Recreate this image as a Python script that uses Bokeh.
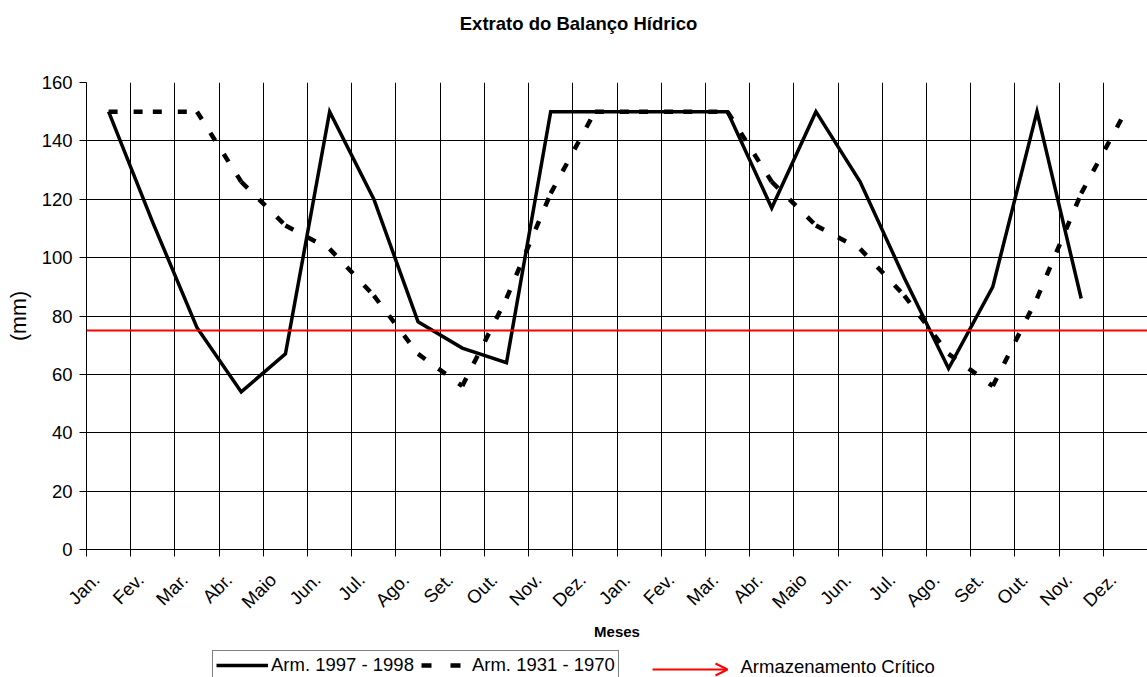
import math
from bokeh.plotting import figure
from bokeh.layouts import column
from bokeh.models import (Range1d, FixedTicker, Span, Legend, LegendItem, Label,
                          Arrow, OpenHead)
from bokeh.embed import file_html
from bokeh.resources import INLINE

# ---------------- data ----------------
months = ["Jan.", "Fev.", "Mar.", "Abr.", "Maio", "Jun.", "Jul.", "Ago.", "Set.", "Out.", "Nov.", "Dez.",
          "Jan.", "Fev.", "Mar.", "Abr.", "Maio", "Jun.", "Jul.", "Ago.", "Set.", "Out.", "Nov.", "Dez."]
arm_1997_1998 = [150, 112, 76, 54, 67, 150, 120, 78, 69, 64, 150, 150,
                 150, 150, 150, 117, 150, 126, 93, 62, 90, 150, 86]
arm_1931_1970 = [150, 150, 150, 126, 111, 103, 87, 67, 56, 86, 122, 150,
                 150, 150, 150, 126, 111, 103, 87, 67, 56, 86, 122, 150]
critical = 75
y_ticks = [0, 20, 40, 60, 80, 100, 120, 140, 160]

title_text = "Extrato do Balanço Hídrico"
x_title = "Meses"
y_title = "(mm)"
series_names = ["Arm. 1997 - 1998", "Arm. 1931 - 1970"]
critical_name = "Armazenamento Crítico"

FONT = "Liberation Sans"
W = 1147

n = len(months)
xs = [i + 0.5 for i in range(n)]            # category centres
bounds = list(range(n + 1))                 # category boundaries
label_pos = [i + 0.22 for i in range(n)]    # anchor of the slanted month labels


def blank(height):
    f = figure(width=W, height=height, output_backend="svg", toolbar_location=None,
               x_range=Range1d(0, W), y_range=Range1d(0, height),
               x_axis_type=None, y_axis_type=None, min_border=0, frame_align=False,
               background_fill_color="white", border_fill_color="white")
    f.outline_line_color = None
    f.xgrid.visible = False
    f.ygrid.visible = False
    return f


SOLID = dict(line_color="black", line_width=3.5, line_join="miter")
DASH = dict(line_color="black", line_width=4.5, line_cap="butt")

# ---------------- title strip ----------------
top = blank(40)
top.add_layout(Label(x=578, y=17.5, text=title_text, text_align="center", text_baseline="middle",
                     text_font=FONT, text_font_size="18.5px", text_font_style="bold",
                     text_color="black"))

# ---------------- main chart ----------------
p = figure(width=W, height=608, output_backend="svg", toolbar_location=None,
           x_range=Range1d(0, n), y_range=Range1d(0, 160),
           min_border_left=86, min_border_right=0, min_border_top=42, min_border_bottom=99,
           background_fill_color="white", border_fill_color="white")
p.outline_line_color = None

xa = p.xaxis[0]
xa.ticker = FixedTicker(ticks=label_pos, minor_ticks=bounds)
xa.major_label_overrides = {x: m for x, m in zip(label_pos, months)}
xa.major_label_orientation = math.pi / 4
xa.major_tick_line_color = None
xa.minor_tick_in = 0
xa.minor_tick_out = 7
xa.minor_tick_line_color = "black"
xa.axis_line_color = "black"
xa.major_label_text_font = FONT
xa.major_label_text_font_size = "18.5px"
xa.major_label_text_color = "black"
xa.major_label_standoff = 20
xa.axis_label = x_title
xa.axis_label_text_font = FONT
xa.axis_label_text_font_size = "15px"
xa.axis_label_text_font_style = "bold"
xa.axis_label_text_color = "black"
xa.axis_label_standoff = 0

ya = p.yaxis[0]
ya.ticker = FixedTicker(ticks=y_ticks)
ya.major_tick_in = 0
ya.major_tick_out = 7
ya.major_tick_line_color = "black"
ya.minor_tick_line_color = None
ya.axis_line_color = "black"
ya.major_label_text_font = FONT
ya.major_label_text_font_size = "18.5px"
ya.major_label_text_color = "black"
ya.major_label_standoff = 7
ya.axis_label = y_title
ya.axis_label_text_font = FONT
ya.axis_label_text_font_size = "21.5px"
ya.axis_label_text_font_style = "normal"
ya.axis_label_text_color = "black"
ya.axis_label_standoff = 8

p.xgrid.ticker = FixedTicker(ticks=bounds)
p.xgrid.grid_line_color = "black"
p.xgrid.grid_line_alpha = 1
p.ygrid.ticker = FixedTicker(ticks=y_ticks)
p.ygrid.grid_line_color = "black"
p.ygrid.grid_line_alpha = 1

p.line(xs[:len(arm_1997_1998)], arm_1997_1998, **SOLID)
p.segment(x0=xs[:-1], y0=arm_1931_1970[:-1], x1=xs[1:], y1=arm_1931_1970[1:],
          line_dash="9 16", **DASH)

p.add_layout(Span(location=critical, dimension="width", line_color="red", line_width=2))

# ---------------- legend strip ----------------
# legend keys reuse the series (they fall outside this strip's range, so only the keys show)
bot = blank(29)
k_solid = bot.line(xs[:len(arm_1997_1998)], arm_1997_1998, **SOLID)
k_dash = bot.line(xs, arm_1931_1970, line_dash="10 19", line_dash_offset=25, **DASH)
legend = Legend(items=[LegendItem(label=series_names[0], renderers=[k_solid]),
                       LegendItem(label=series_names[1], renderers=[k_dash])],
                orientation="horizontal", location=(212, -3),
                border_line_color="black", border_line_width=1,
                background_fill_color="white", background_fill_alpha=1,
                label_text_font=FONT, label_text_font_size="18.5px", label_text_color="black",
                glyph_width=52, glyph_height=20, label_standoff=3, spacing=3,
                padding=3, margin=0, label_height=20)
bot.add_layout(legend, "center")
bot.add_layout(Arrow(end=OpenHead(size=12, line_color="red", line_width=2),
                     x_start=652, y_start=8, x_end=727, y_end=8,
                     line_color="red", line_width=2))
bot.add_layout(Label(x=740, y=11, text=critical_name, text_baseline="middle",
                     text_font=FONT, text_font_size="18.5px", text_color="black"))

layout = column(top, p, bot, spacing=0)
open("out.html", "w").write(file_html(layout, INLINE))
